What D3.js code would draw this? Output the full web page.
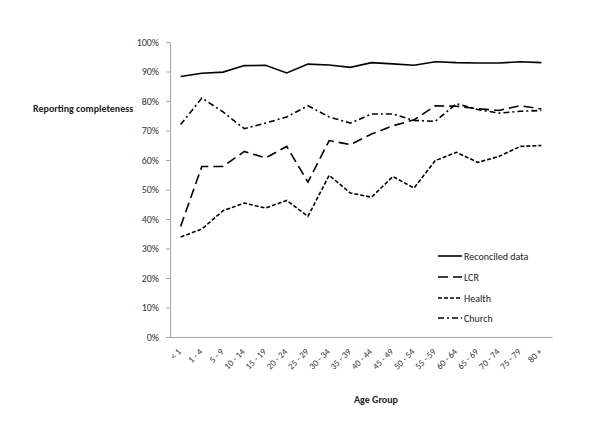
<!DOCTYPE html>
<html>
<head>
<meta charset="utf-8">
<script src="https://cdn.jsdelivr.net/npm/d3@7/dist/d3.min.js"></script>
<style>
  body { margin: 0; background: #fff; }
  text { font-family: Carlito, Calibri, "Open Sans", sans-serif; fill: #222; }
</style>
</head>
<body>
<div id="chart"></div>
<script>
// age groups on x
var ageGroups = ["< 1", "1 - 4", "5 - 9", "10 - 14", "15 - 19", "20 - 24", "25 - 29", "30 - 34", "35 - 39",
  "40 - 44", "45 - 49", "50 - 54", "55 - 59", "60 - 64", "65 - 69", "70 - 74", "75 - 79", "80 +"];

// values in percent
var reconciled = [88.3, 89.4, 89.8, 92.0, 92.1, 89.5, 92.5, 92.2, 91.4, 93.0, 92.6, 92.1, 93.3, 93.0, 92.9, 92.9, 93.3, 93.0];
var lcr        = [37.5, 57.8, 57.8, 62.9, 60.7, 64.6, 52.5, 66.6, 65.2, 68.8, 71.6, 73.6, 78.4, 78.2, 77.4, 76.8, 78.4, 77.3];
var health     = [33.9, 36.6, 42.8, 45.4, 43.7, 46.3, 40.9, 54.8, 48.8, 47.4, 54.4, 50.5, 59.8, 62.6, 59.2, 61.2, 64.6, 64.9];
var church     = [72.0, 81.0, 76.3, 70.6, 72.5, 74.6, 78.4, 74.6, 72.5, 75.6, 75.6, 73.4, 73.1, 79.1, 77.1, 75.9, 76.5, 76.8];

var yTicks = [0, 10, 20, 30, 40, 50, 60, 70, 80, 90, 100];

var seriesNames = ["Reconciled data", "LCR", "Health", "Church"];
var dashes = [null, "10,5", "4,2", "6,3,2,3"];

var width = 600, height = 428;
var plotLeft = 170, plotRight = 552, plotTop = 42, plotBottom = 337;

var svg = d3.select("#chart").append("svg")
  .attr("width", width)
  .attr("height", height);

var x = d3.scaleBand().domain(ageGroups).range([plotLeft, plotRight]);
var y = d3.scaleLinear().domain([0, 100]).range([plotBottom, plotTop]);

// y axis
var yAxis = svg.append("g")
  .attr("transform", "translate(" + plotLeft + ",0)")
  .call(d3.axisLeft(y).tickValues(yTicks).tickSize(4).tickSizeOuter(0).tickFormat(function (d) { return d + "%"; }));
yAxis.selectAll("path, line").attr("stroke", "#a6a6a6");
yAxis.selectAll("text").attr("font-size", "10px").attr("dx", "-4px").style("fill", "#333");

// x axis
var xAxis = svg.append("g")
  .attr("transform", "translate(0," + plotBottom + ")")
  .call(d3.axisBottom(x).tickSize(0).tickSizeOuter(0));
xAxis.select("path").attr("stroke", "#a6a6a6");
xAxis.selectAll("text")
  .attr("font-size", "9px")
  .attr("text-anchor", "end")
  .attr("y", 0)
  .attr("dy", "0.35em")
  .attr("transform", "translate(-1,13) rotate(-45)")
  .style("fill", "#333");

var line = d3.line()
  .x(function (d, i) { return x(ageGroups[i]) + x.bandwidth() / 2; })
  .y(function (d) { return y(d); });

var allSeries = [reconciled, lcr, health, church];
allSeries.forEach(function (s, k) {
  svg.append("path")
    .datum(s)
    .attr("d", line)
    .attr("fill", "none")
    .attr("stroke", "#000")
    .attr("stroke-width", 1.6)
    .attr("stroke-dasharray", dashes[k]);
});

// legend
var legend = svg.append("g");
var legendY = [256, 277, 298, 318];
seriesNames.forEach(function (name, k) {
  legend.append("line")
    .attr("x1", 438).attr("x2", 462)
    .attr("y1", legendY[k]).attr("y2", legendY[k])
    .attr("stroke", "#000")
    .attr("stroke-width", 1.6)
    .attr("stroke-dasharray", dashes[k]);
  legend.append("text")
    .attr("x", 464)
    .attr("y", legendY[k])
    .attr("dy", "0.35em")
    .attr("font-size", "10px")
    .text(name);
});

// axis titles
svg.append("text")
  .attr("x", 33).attr("y", 108)
  .attr("dy", "0.35em")
  .attr("font-size", "10px")
  .attr("font-weight", "bold")
  .text("Reporting completeness");

svg.append("text")
  .attr("x", 376).attr("y", 399)
  .attr("dy", "0.35em")
  .attr("text-anchor", "middle")
  .attr("font-size", "10px")
  .attr("font-weight", "bold")
  .text("Age Group");
</script>
</body>
</html>
